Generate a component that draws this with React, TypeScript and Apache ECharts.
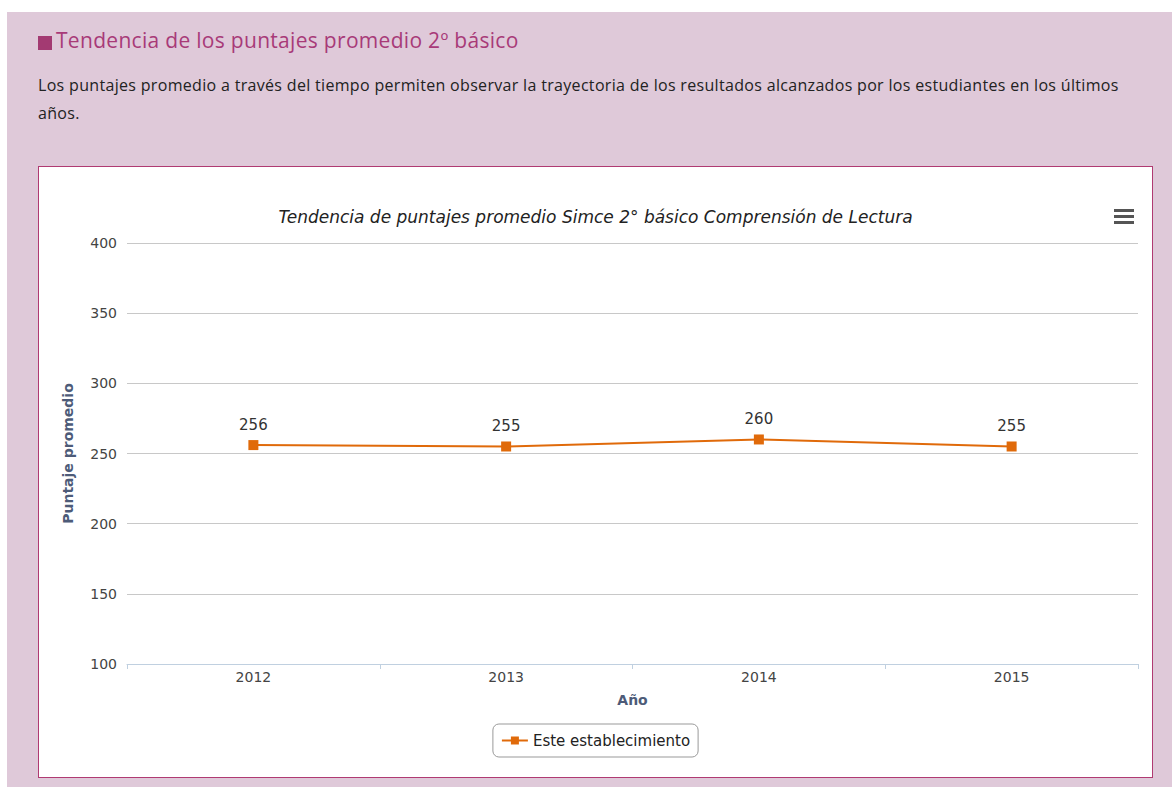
import React, { useEffect, useRef } from "react";
import * as echarts from "echarts";

const years = ["2012", "2013", "2014", "2015"];
const scores = [256, 255, 260, 255];
const seriesName = "Este establecimiento";
const chartTitle = "Tendencia de puntajes promedio Simce 2° básico Comprensión de Lectura";
const yAxisTitle = "Puntaje promedio";
const xAxisTitle = "Año";
const yMin = 100;
const yMax = 400;
const yStep = 50;

const pageTitle = "Tendencia de los puntajes promedio 2º básico";
const pageLine1 =
  "Los puntajes promedio a través del tiempo permiten observar la trayectoria de los resultados alcanzados por los estudiantes en los últimos";
const pageLine2 = "años.";

const FONT = "'DejaVu Sans', 'Lucida Grande', sans-serif";

export default function App() {
  const ref = useRef<HTMLDivElement>(null);

  useEffect(() => {
    document.body.style.margin = "0";
    if (!ref.current) return;
    const chart = echarts.init(ref.current, undefined, { renderer: "svg" });
    chart.setOption({
      animation: false,
      backgroundColor: "#ffffff",
      textStyle: { fontFamily: FONT },
      title: {
        text: chartTitle,
        left: "center",
        top: 36,
        textStyle: {
          fontFamily: FONT,
          fontSize: 17,
          fontStyle: "italic",
          fontWeight: "normal",
          color: "#222",
        },
      },
      grid: { left: 88, right: 14, top: 76, bottom: 113, containLabel: false },
      xAxis: {
        type: "category",
        data: years,
        boundaryGap: true,
        name: xAxisTitle,
        nameLocation: "middle",
        nameGap: 29,
        nameTextStyle: { fontFamily: FONT, fontSize: 14, fontWeight: "bold", color: "#4d5b78" },
        axisLine: { lineStyle: { color: "#c0d0e0", width: 1 } },
        axisTick: { show: true, length: 5, lineStyle: { color: "#c0d0e0" } },
        axisLabel: { fontFamily: FONT, fontSize: 14, color: "#444", margin: 6 },
        splitLine: { show: false },
      },
      yAxis: {
        type: "value",
        min: yMin,
        max: yMax,
        interval: yStep,
        name: yAxisTitle,
        nameLocation: "middle",
        nameRotate: 90,
        nameGap: 52,
        nameTextStyle: { fontFamily: FONT, fontSize: 14, fontWeight: "bold", color: "#4d5b78" },
        axisLine: { show: false },
        axisTick: { show: false },
        axisLabel: { fontFamily: FONT, fontSize: 14, color: "#444", margin: 10 },
        splitLine: { lineStyle: { color: "#c8c8c8", width: 1 } },
      },
      legend: {
        data: [seriesName],
        left: "center",
        top: 557,
        borderColor: "#999",
        borderWidth: 1,
        borderRadius: 6,
        padding: [9, 8, 9, 8],
        itemWidth: 26,
        itemHeight: 10,
        itemGap: 6,
        textStyle: { fontFamily: FONT, fontSize: 15, color: "#222" },
      },
      series: [
        {
          name: seriesName,
          type: "line",
          data: scores,
          symbol: "rect",
          symbolSize: 10,
          itemStyle: { color: "#e06a0a" },
          lineStyle: { color: "#e06a0a", width: 2 },
          label: {
            show: true,
            position: "top",
            distance: 8,
            fontFamily: FONT,
            fontSize: 15,
            color: "#333",
          },
        },
      ],
      graphic: [
        { type: "rect", shape: { x: 1075, y: 42, width: 20, height: 3 }, style: { fill: "#555" } },
        { type: "rect", shape: { x: 1075, y: 48, width: 20, height: 3 }, style: { fill: "#555" } },
        { type: "rect", shape: { x: 1075, y: 54, width: 20, height: 3 }, style: { fill: "#555" } },
      ],
    });
    return () => chart.dispose();
  }, []);

  return (
    <div
      style={{
        position: "relative",
        width: 1172,
        height: 787,
        background: "#ffffff",
        overflow: "hidden",
      }}
    >
      <div
        style={{
          position: "absolute",
          left: 7,
          top: 12,
          right: 0,
          bottom: 0,
          background: "#dfc9d9",
        }}
      />
      <div
        style={{
          position: "absolute",
          left: 38,
          top: 36,
          width: 14,
          height: 14,
          background: "#a33a72",
        }}
      />
      <div
        style={{
          position: "absolute",
          left: 56,
          top: 26,
          fontFamily: "'Open Sans', sans-serif",
          fontSize: 21,
          letterSpacing: 0.3,
          color: "#a83a78",
          whiteSpace: "nowrap",
        }}
      >
        {pageTitle}
      </div>
      <div
        style={{
          position: "absolute",
          left: 38,
          top: 71,
          fontFamily: "'Open Sans', sans-serif",
          fontSize: 16,
          letterSpacing: 0.32,
          lineHeight: "28px",
          color: "#222",
          whiteSpace: "nowrap",
        }}
      >
        {pageLine1}
        <br />
        {pageLine2}
      </div>
      <div
        style={{
          position: "absolute",
          left: 38,
          top: 166,
          width: 1113,
          height: 610,
          border: "1px solid #b03a72",
          background: "#fff",
        }}
      >
        <div ref={ref} style={{ width: 1113, height: 610 }} />
      </div>
    </div>
  );
}
